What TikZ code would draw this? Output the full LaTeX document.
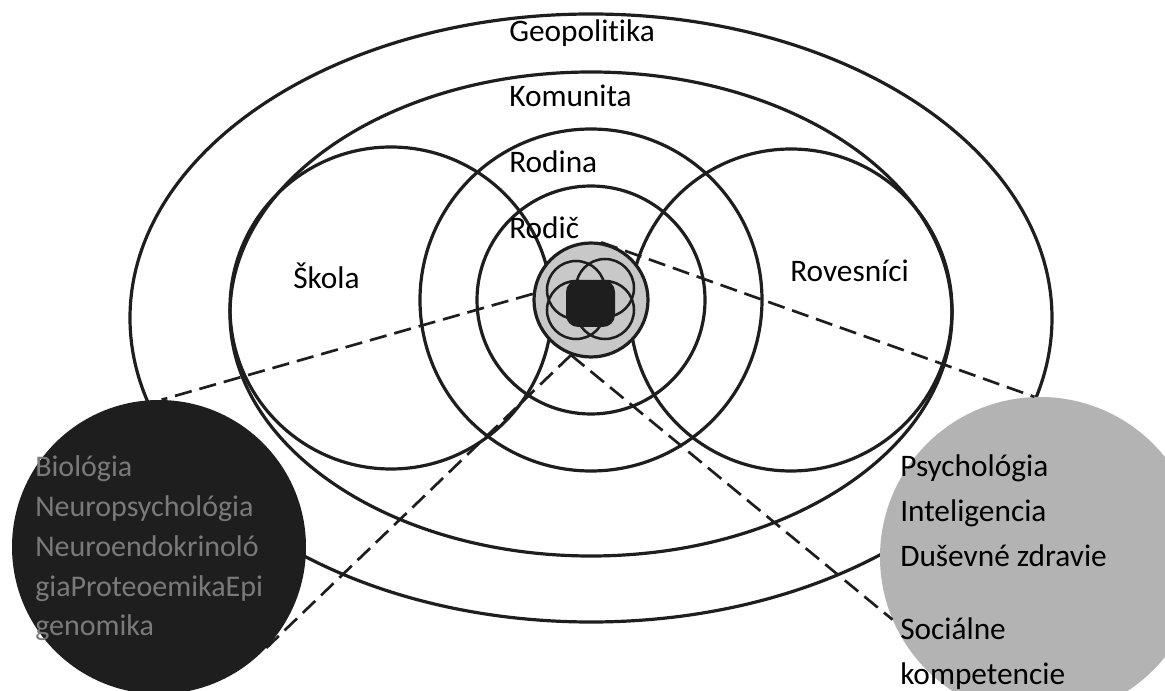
\documentclass[tikz,border=0pt]{standalone}
\usepackage{fontspec}
\setmainfont{Carlito}[Ligatures={NoCommon}]
\definecolor{ink}{HTML}{1E1E1E}
\definecolor{midgrey}{HTML}{B3B3B3}
\definecolor{coregrey}{HTML}{C8C8C8}
\definecolor{biotext}{HTML}{7A7A7A}
\begin{document}
\begin{tikzpicture}[x=0.75pt,y=-0.75pt,
  ring/.style={draw=ink,line width=2.4pt},
  petal/.style={draw=ink,line width=1.9pt},
  link/.style={draw=ink,line width=2pt,dash pattern=on 13pt off 6pt},
  disc/.style={circle,inner sep=0pt},
  lbl/.style={anchor=base west,inner sep=0pt,font=\fontsize{23.5}{28}\selectfont,text=black},
  biol/.style={anchor=base west,inner sep=0pt,font=\fontsize{22.5}{27}\selectfont,text=biotext},
]
\useasboundingbox (0,0) rectangle (1165,691);
% nested ellipses and circles
\draw[ring] (591,318) ellipse [x radius=461, y radius=304];
\draw[ring] (591,314) ellipse [x radius=361, y radius=242];
\draw[ring] (391,308) circle [radius=161];
\draw[ring] (791,310) circle [radius=161];
\draw[ring] (591,300) circle [radius=171];
\draw[ring] (591,300) circle [radius=114];
% core
\node[disc,draw=ink,fill=coregrey,line width=2.4pt,minimum size=85.5pt] (core) at (591,300) {};
\foreach \p in {(576,290),(605,288),(576,310),(605,310)}
  \draw[petal] \p circle [radius=29];
\fill[ink,rounded corners=9pt] (566,280) rectangle (615,327);
% big discs
\node[disc,fill=ink,minimum size=220.5pt] (bio) at (159,547) {};
\node[disc,fill=midgrey,minimum size=240pt] (psy) at (1040,557) {};
% dashed connectors
\draw[link] (core.174) -- (bio.89);
\draw[link] (core.80) -- (psy.92);
\draw[link] (core.250) -- (bio.-44);
\draw[link] (core.250) -- (psy.203);
% labels
\node[lbl] (geo) at (509,42) {Geopolitika};
\node[lbl] (kom) at (509,107) {Komunita};
\node[lbl] (rod) at (509,173) {Rodina};
\node[lbl] (rdc) at (509,239) {Rodič};
\node[lbl] (sko) at (293,289) {Škola};
\node[lbl] (rov) at (790,282) {Rovesníci};
% biology text
\node[biol] (b1) at (35,477) {Biológia};
\node[biol] (b2) at (35,517) {Neuropsychológia};
\node[biol] (b3) at (35,557) {Neuroendokrinoló};
\node[biol] (b4) at (35,597) {giaProteoemikaEpi};
\node[biol] (b5) at (35,636) {genomika};
% psychology text
\node[lbl] (p1) at (900,477) {Psychológia};
\node[lbl] (p2) at (900,522) {Inteligencia};
\node[lbl] (p3) at (900,567) {Duševné zdravie};
\node[lbl] (p4) at (900,640) {Sociálne};
\node[lbl] (p5) at (900,684) {kompetencie};
\end{tikzpicture}
\end{document}
